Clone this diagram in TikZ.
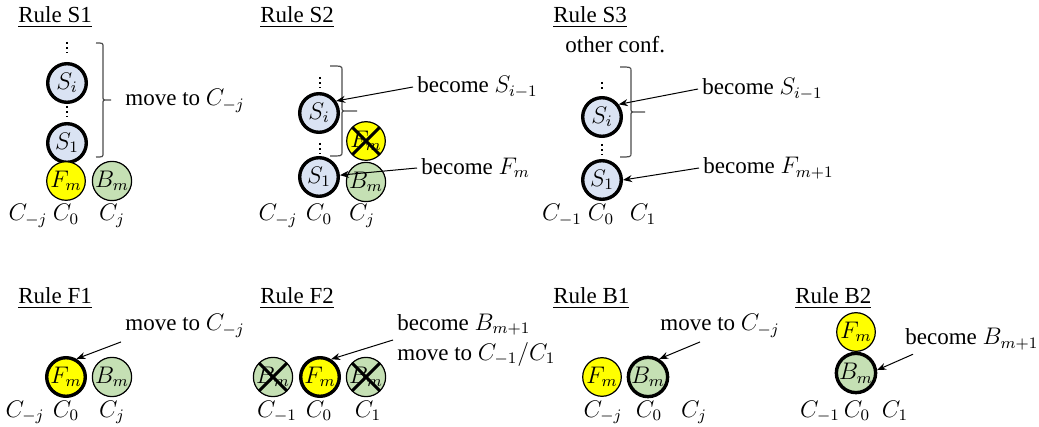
\documentclass[tikz,border=0pt]{standalone}
\usepackage{fontspec}
\setmainfont{Liberation Serif}
\usetikzlibrary{arrows.meta}
\definecolor{sblue}{RGB}{218,227,243}
\definecolor{bgreen}{RGB}{197,224,180}
\definecolor{fyellow}{RGB}{255,255,0}
\tikzset{
  agent/.style={circle,draw,line width=0.6pt,minimum size=19.3pt,inner sep=0pt},
  moving/.style={agent,line width=1.7pt},
  scell/.style={moving,fill=sblue},
  fcell/.style={agent,fill=fyellow},
  bcell/.style={agent,fill=bgreen},
  gone/.style={path picture={
    \draw[line width=1.5pt] (path picture bounding box.north west) -- (path picture bounding box.south east)
      (path picture bounding box.north east) -- (path picture bounding box.south west);}},
  title/.style={anchor=base west,inner sep=0pt},
  note/.style={anchor=west,inner sep=2pt},
  cpos/.style={anchor=base,inner sep=0pt},
  pointer/.style={-{Stealth[length=4.5pt,width=3.5pt]},line width=0.5pt},
  vdotted/.style={line width=1.3pt,dash pattern=on 1pt off 1.6pt},
  bracket/.style={line width=0.6pt,draw=black!70}
}
\newcommand{\sidebrace}[5]{%
  \draw[bracket] (#1,#4) .. controls (#2,#4) .. (#2,#4+4) -- (#2,{(#4+#5)/2-4})
    .. controls (#2,{(#4+#5)/2}) .. (#2+4,{(#4+#5)/2}) -- (#3,{(#4+#5)/2})
    (#2+4,{(#4+#5)/2}) .. controls (#2,{(#4+#5)/2}) .. (#2,{(#4+#5)/2+4})
    -- (#2,#5-4) .. controls (#2,#5) .. (#1,#5);}
\begin{document}
\begin{tikzpicture}[x=0.5pt,y=-0.5pt,font=\fontsize{11.5}{15}\selectfont]
\useasboundingbox (0,0) rectangle (1039,427);

\node[title] (ts1) at (18,23) {\underline{Rule S1}};
\draw[vdotted] (67,42) -- (67,53);
\node[scell] (si1) at (67,83) {$S_i$};
\draw[vdotted] (67,106) -- (67,117);
\node[scell] (sa1) at (67,143) {$S_1$};
\node[fcell] (fm1) at (66,181) {$F_m$};
\node[bcell] (bm1) at (112,181) {$B_m$};
\sidebrace{96}{103}{111}{43}{157}
\node[note] (mv1) at (121,101) {move to $C_{-j}$};
\node[cpos] (cl1) at (28,221) {$C_{-j}$};
\node[cpos] (cz1) at (66,221) {$C_0$};
\node[cpos] (cr1) at (112,221) {$C_j$};

\node[title] (ts2) at (260,23) {\underline{Rule S2}};
\draw[vdotted] (320,77) -- (320,88);
\node[scell] (si2) at (319,113) {$S_i$};
\draw[vdotted] (320,143) -- (320,154);
\node[scell] (sa2) at (319,177) {$S_1$};
\node[fcell,gone] (fm2) at (366,141) {$F_m$};
\node[bcell] (bm2) at (366,182) {$B_m$};
\sidebrace{330}{342}{357}{66}{156}
\node[note] (bs2) at (413,87) {become $S_{i-1}$};
\node[note] (bf2) at (417,168) {become $F_m$};
\draw[pointer] (bs2.west) -- (si2.35);
\draw[pointer] (bf2.west) -- (sa2.5);
\node[cpos] (cl2) at (278,221) {$C_{-j}$};
\node[cpos] (cz2) at (319,221) {$C_0$};
\node[cpos] (cr2) at (362,221) {$C_j$};

\node[title] (ts3) at (553,23) {\underline{Rule S3}};
\node[note] (oc3) at (561,45) {other conf.};
\draw[vdotted] (602,82) -- (602,92);
\node[scell] (si3) at (602,117) {$S_i$};
\draw[vdotted] (602,144) -- (602,155);
\node[scell] (sa3) at (602,180) {$S_1$};
\sidebrace{620}{631}{645}{67}{157}
\node[note] (bs3) at (698,89) {become $S_{i-1}$};
\node[note] (bf3) at (699,168) {become $F_{m+1}$};
\draw[pointer] (bs3.west) -- (si3.37);
\draw[pointer] (bf3.west) -- (sa3.east);
\node[cpos] (cl3) at (562,221) {$C_{-1}$};
\node[cpos] (cz3) at (601,221) {$C_0$};
\node[cpos] (cr3) at (643,221) {$C_1$};

\node[title] (tf1) at (18,304) {\underline{Rule F1}};
\node[fcell,moving] (fm4) at (66,377) {$F_m$};
\node[bcell] (bm4) at (112,377) {$B_m$};
\node[note] (mv4) at (121,326) {move to $C_{-j}$};
\draw[pointer] (mv4.south west) -- (fm4.60);
\node[cpos] (cl4) at (25,417) {$C_{-j}$};
\node[cpos] (cz4) at (66,417) {$C_0$};
\node[cpos] (cr4) at (112,417) {$C_j$};

\node[title] (tf2) at (260,304) {\underline{Rule F2}};
\node[bcell,gone] (bl5) at (273,377) {$B_m$};
\node[fcell,moving] (fm5) at (320,377) {$F_m$};
\node[bcell,gone] (br5) at (366,377) {$B_m$};
\node[note,align=left] (bc5) at (393,340) {become $B_{m+1}$\\move to $C_{-1}/C_1$};
\draw[pointer] (bc5.west) -- (fm5.58);
\node[cpos] (cl5) at (277,417) {$C_{-1}$};
\node[cpos] (cz5) at (319,417) {$C_0$};
\node[cpos] (cr5) at (368,417) {$C_1$};

\node[title] (tb1) at (553,304) {\underline{Rule B1}};
\node[fcell] (fm6) at (602,377) {$F_m$};
\node[bcell,moving] (bm6) at (648,377) {$B_m$};
\node[note] (mv6) at (656,326) {move to $C_{-j}$};
\draw[pointer] ([xshift=22pt]mv6.south west) -- (bm6.58);
\node[cpos] (cl6) at (603,417) {$C_{-j}$};
\node[cpos] (cz6) at (649,417) {$C_0$};
\node[cpos] (cr6) at (694,417) {$C_j$};

\node[title] (tb2) at (795,304) {\underline{Rule B2}};
\node[fcell] (fm7) at (856,332) {$F_m$};
\node[bcell,moving] (bm7) at (856,373) {$B_m$};
\node[note] (bb7) at (901,339) {become $B_{m+1}$};
\draw[pointer] ([xshift=6pt]bb7.south west) -- (bm7.8);
\node[cpos] (cl7) at (820,417) {$C_{-1}$};
\node[cpos] (cz7) at (857,417) {$C_0$};
\node[cpos] (cr7) at (895,417) {$C_1$};
\end{tikzpicture}
\end{document}
